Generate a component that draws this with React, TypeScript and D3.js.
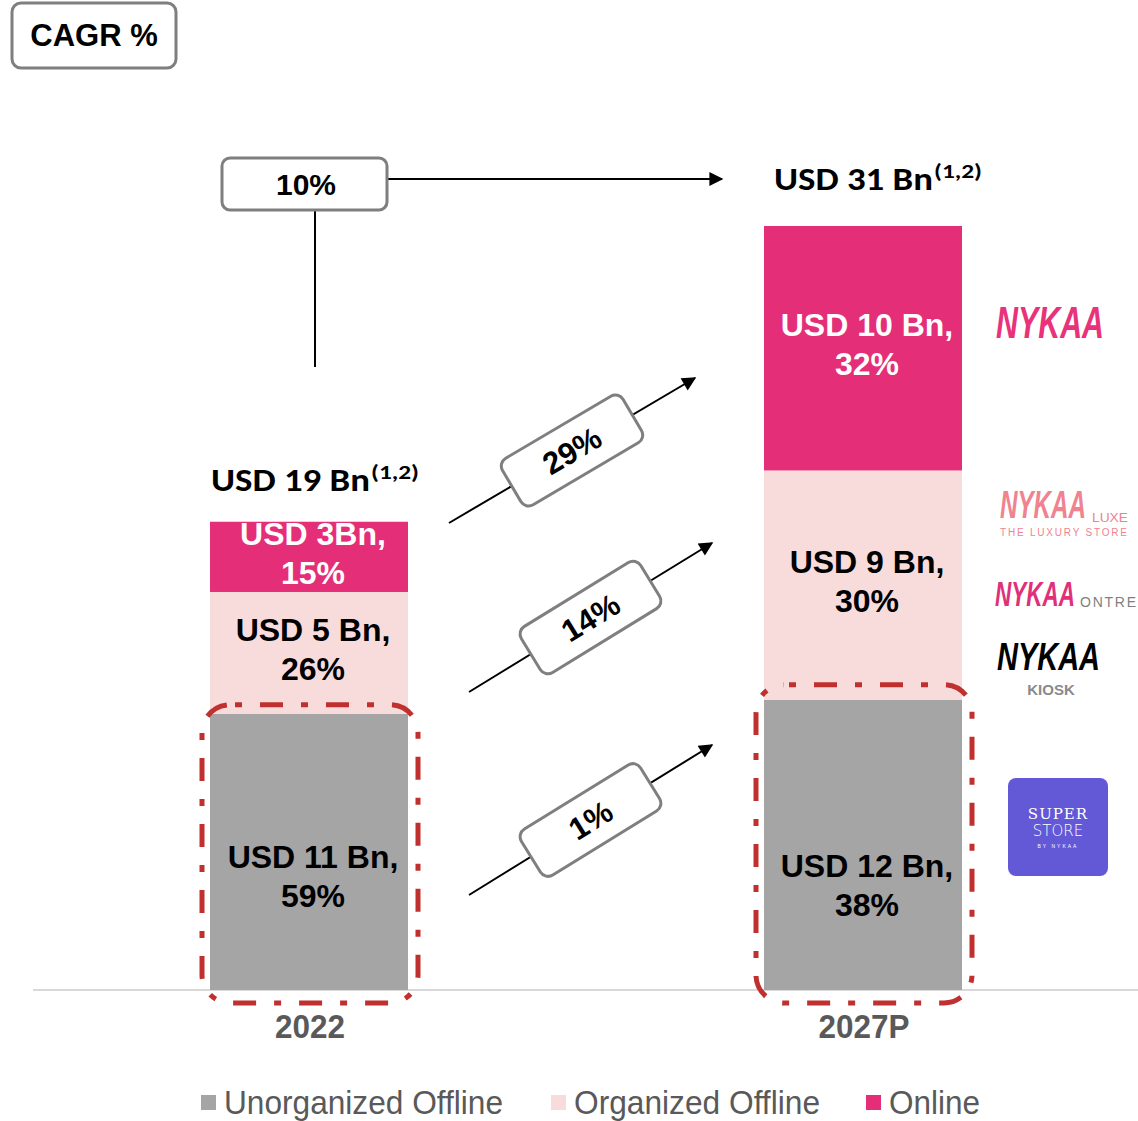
import React from "react";
import * as d3 from "d3";

// ---------- data ----------
const categories = ["2022", "2027P"];
const totals = [19, 31];
const totalLabels = ["USD 19 Bn", "USD 31 Bn"];
const totalNote = "(1,2)";
const seriesNames = ["Unorganized Offline", "Organized Offline", "Online"];
const unorganizedShare = [59, 38];
const organizedShare = [26, 30];
const onlineShare = [15, 32];
const unorganizedLabels = ["USD 11 Bn,", "USD 12 Bn,"];
const organizedLabels = ["USD 5 Bn,", "USD 9 Bn,"];
const onlineLabels = ["USD 3Bn,", "USD 10 Bn,"];
const seriesCagr = ["1%", "14%", "29%"];
const totalCagr = "10%";
const cagrTitle = "CAGR %";

// ---------- style ----------
const seriesColors = ["#a5a5a5", "#f8dcdc", "#e42e78"];
const seriesTextColors = ["#000000", "#000000", "#ffffff"];
const ARIAL = "'Liberation Sans', Arial, sans-serif";
const CALIBRI = "Carlito, Lato, Calibri, sans-serif";
const BOX_STROKE = "#7f7f7f";
const RED = "#c0302e";

const W = 1138;
const H = 1121;

export default function App() {
  const shares = [unorganizedShare, organizedShare, onlineShare];
  const segLabels = [unorganizedLabels, organizedLabels, onlineLabels];
  const rows = categories.map((c, i) => {
    const r: any = { category: c, index: i };
    seriesNames.forEach((s, k) => {
      r[s] = (totals[i] * shares[k][i]) / 100;
    });
    return r;
  });
  const stacked = d3.stack<any>().keys(seriesNames)(rows);

  const x = d3
    .scaleBand<string>()
    .domain(categories)
    .range([210, 962])
    .paddingInner(0.6426)
    .paddingOuter(0);
  const y = d3
    .scaleLinear()
    .domain([0, d3.max(totals) as number])
    .range([990, 226]);
  const bw = x.bandwidth();

  // annotation layout for the growth arrows (series order)
  const arrowLayout = [
    { x1: 469, y1: 895, x2: 712, y2: 745 },
    { x1: 469, y1: 692, x2: 712, y2: 543 },
    { x1: 449, y1: 523, x2: 695, y2: 378 },
  ];

  const legendX = [201, 551, 866];
  const legendW = [279, 246, 91];
  const yearW = [70, 91];

  const dashed = "23 18 7 18";

  return (
    <svg
      width={W}
      height={H}
      viewBox={`0 0 ${W} ${H}`}
      style={{ position: "absolute", left: 0, top: 0, background: "#fff" }}
    >
      <defs>
        <marker
          id="arr"
          viewBox="0 0 10 10"
          refX="9"
          refY="5"
          markerWidth="18"
          markerHeight="14"
          markerUnits="userSpaceOnUse"
          orient="auto"
        >
          <path d="M0,0 L10,5 L0,10 z" fill="#000" />
        </marker>
      </defs>

      {/* CAGR title box */}
      <rect x={12} y={3} width={164} height={65} rx={9} fill="#fff" stroke={BOX_STROKE} strokeWidth={3} />
      <text x={94} y={46} textAnchor="middle" fontFamily={ARIAL} fontWeight="bold" fontSize={31} fill="#000">
        {cagrTitle}
      </text>

      {/* baseline */}
      <line x1={33} x2={W} y1={y(0)} y2={y(0)} stroke="#d9d9d9" strokeWidth={2} />

      {/* bars */}
      {stacked.map((layer, k) => (
        <g key={layer.key}>
          {layer.map((d: any, i: number) => (
            <rect
              key={i}
              x={x(d.data.category)}
              y={y(d[1])}
              width={bw}
              height={y(d[0]) - y(d[1])}
              fill={seriesColors[k]}
            />
          ))}
        </g>
      ))}

      {/* dashed highlight around unorganized offline */}
      {stacked[0].map((d: any, i: number) => {
        const x0 = (x(d.data.category) as number) - 8;
        const x1 = (x(d.data.category) as number) + bw + 10;
        const y0 = y(d[1]) - 9 - i * 6;
        const y1 = y(0) + 13;
        return (
          <rect
            key={i}
            x={x0}
            y={y0}
            width={x1 - x0}
            height={y1 - y0}
            rx={28}
            fill="none"
            stroke={RED}
            strokeWidth={5}
            strokeDasharray={dashed}
            strokeDashoffset={-30}
          />
        );
      })}

      {/* segment labels */}
      {stacked.map((layer, k) =>
        layer.map((d: any, i: number) => {
          const cx = (x(d.data.category) as number) + bw / 2 + 4;
          const mid = (y(d[0]) + y(d[1])) / 2;
          const base = mid + (k === 0 ? 16 + i * 16 : -12);
          return (
            <text
              key={`${k}-${i}`}
              textAnchor="middle"
              fontFamily={ARIAL}
              fontWeight="bold"
              fontSize={32}
              fill={seriesTextColors[k]}
            >
              <tspan x={cx} y={base}>
                {segLabels[k][i]}
              </tspan>
              <tspan x={cx} y={base + 39}>
                {shares[k][i]}%
              </tspan>
            </text>
          );
        })
      )}

      {/* totals */}
      {categories.map((c, i) => {
        const left = (x(c) as number) + i * 9 + 1;
        const by = y(totals[i]) - 31 - i * 5;
        return (
          <g key={c}>
            <text
              x={left}
              y={by}
              fontFamily={CALIBRI}
              fontWeight="bold"
              fontSize={33}
              fill="#000"
              textLength={159}
              lengthAdjust="spacingAndGlyphs"
            >
              {totalLabels[i]}
            </text>
            <text
              x={left + 160}
              y={by - 12}
              fontFamily={CALIBRI}
              fontWeight="bold"
              fontSize={21}
              fill="#000"
              textLength={48}
              lengthAdjust="spacingAndGlyphs"
            >
              {totalNote}
            </text>
          </g>
        );
      })}

      {/* x-axis labels */}
      {categories.map((c, i) => (
        <text
          key={c}
          x={(x(c) as number) + bw / 2 - yearW[i] / 2 + 1}
          y={1038}
          fontFamily={ARIAL}
          fontWeight="bold"
          fontSize={33}
          fill="#595959"
          textLength={yearW[i]}
          lengthAdjust="spacingAndGlyphs"
        >
          {c}
        </text>
      ))}

      {/* total CAGR connector */}
      <line x1={315} x2={315} y1={210} y2={367} stroke="#000" strokeWidth={2} />
      <line x1={387} x2={722} y1={179} y2={179} stroke="#000" strokeWidth={2} markerEnd="url(#arr)" />
      <rect x={222} y={158} width={165} height={52} rx={8} fill="#fff" stroke={BOX_STROKE} strokeWidth={3} />
      <text x={306} y={195} textAnchor="middle" fontFamily={ARIAL} fontWeight="bold" fontSize={30} fill="#000">
        {totalCagr}
      </text>

      {/* per-series CAGR arrows */}
      {arrowLayout.map((a, k) => {
        const cx = (a.x1 + a.x2) / 2;
        const cy = (a.y1 + a.y2) / 2;
        const ang = (Math.atan2(a.y2 - a.y1, a.x2 - a.x1) * 180) / Math.PI;
        return (
          <g key={k}>
            <line x1={a.x1} y1={a.y1} x2={a.x2} y2={a.y2} stroke="#000" strokeWidth={2} markerEnd="url(#arr)" />
            <g transform={`translate(${cx},${cy}) rotate(${ang})`}>
              <rect x={-70} y={-27} width={140} height={54} rx={9} fill="#fff" stroke={BOX_STROKE} strokeWidth={3} />
              <text x={0} y={11} textAnchor="middle" fontFamily={ARIAL} fontWeight="bold" fontSize={31} fill="#000">
                {seriesCagr[k]}
              </text>
            </g>
          </g>
        );
      })}

      {/* brand logos (approximated as text) */}
      <g fontFamily={ARIAL} fontStyle="italic" fontWeight="bold">
        <text x={996} y={338} fontSize={44} fill="#e8337b" textLength={108} lengthAdjust="spacingAndGlyphs">
          NYKAA
        </text>
        <text x={1000} y={518} fontSize={38} fill="#ef8390" textLength={86} lengthAdjust="spacingAndGlyphs">
          NYKAA
        </text>
        <text x={1092} y={522} fontSize={12} fontStyle="normal" fontWeight="normal" fill="#ef8390" textLength={36} lengthAdjust="spacingAndGlyphs">
          LUXE
        </text>
        <text x={1000} y={536} fontSize={10} fontStyle="normal" fontWeight="normal" fill="#ef8390" textLength={127} lengthAdjust="spacing">
          THE LUXURY STORE
        </text>
        <text x={995} y={606} fontSize={35} fill="#e0307a" textLength={80} lengthAdjust="spacingAndGlyphs">
          NYKAA
        </text>
        <text x={1080} y={607} fontSize={14} fontStyle="normal" fontWeight="normal" fill="#7f7f7f" textLength={56} lengthAdjust="spacing">
          ONTRE
        </text>
        <text x={997} y={670} fontSize={38} fill="#000" textLength={103} lengthAdjust="spacingAndGlyphs">
          NYKAA
        </text>
        <text x={1051} y={695} fontSize={15} fontStyle="normal" fill="#8a8a8a" textAnchor="middle">
          KIOSK
        </text>
      </g>
      <rect x={1008} y={778} width={100} height={98} rx={8} fill="#6358d6" />
      <text x={1058} y={819} textAnchor="middle" fontFamily="'DejaVu Serif', serif" fontSize={15} fill="#fff" letterSpacing={1}>
        SUPER
      </text>
      <text x={1058} y={836} textAnchor="middle" fontFamily="'DejaVu Sans', sans-serif" fontSize={15} fill="#fff" fontWeight={300}>
        STORE
      </text>
      <text x={1058} y={848} textAnchor="middle" fontFamily={ARIAL} fontSize={5} fill="#fff" letterSpacing={2}>
        BY NYKAA
      </text>

      {/* legend */}
      {seriesNames.map((s, k) => (
        <g key={s}>
          <rect x={legendX[k]} y={1095} width={15} height={15} fill={seriesColors[k]} />
          <text
            x={legendX[k] + 23}
            y={1114}
            fontFamily={ARIAL}
            fontSize={33}
            fill="#595959"
            textLength={legendW[k]}
            lengthAdjust="spacingAndGlyphs"
          >
            {s}
          </text>
        </g>
      ))}
    </svg>
  );
}
